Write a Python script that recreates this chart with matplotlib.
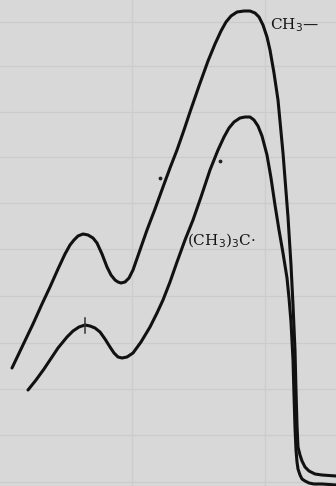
import matplotlib
matplotlib.use("Agg")
import matplotlib.pyplot as plt

# Traced curves (x position across chart, y = height below top, in chart units)
ch3_x = [12, 22, 33, 42, 50, 58, 65, 70, 74, 78, 83, 88, 93, 97, 102, 107, 111, 115, 118,
         121, 125, 129, 133, 140, 147, 155, 163, 170, 177, 184, 190, 199, 208, 215, 221,
         226, 231, 237, 244, 250, 255, 259, 263, 267, 270, 274, 278, 283, 288, 291, 293,
         295, 296, 297, 298, 300, 302, 305, 309, 315, 322, 336]
ch3_y = [368, 347, 324, 304, 287, 269, 254, 245, 240, 236, 234, 235, 238, 243, 254, 267, 275, 280, 282,
         283, 282, 278, 270, 250, 230, 209, 187, 168, 150, 130, 112, 86, 61, 44, 31,
         22, 16, 12, 11, 11, 13, 17, 25, 37, 50, 73, 100, 153, 217, 265, 305,
         350, 390, 425, 447, 455, 461, 467, 471, 474, 475, 476]

tbu_x = [28, 36, 44, 50, 58, 67, 73, 79, 85, 90, 95, 100, 105, 110, 114, 118, 122, 127,
         133, 141, 150, 157, 163, 170, 177, 185, 193, 201, 210, 218, 224, 229, 234, 240,
         245, 250, 254, 258, 262, 267, 271, 275, 279, 283, 287, 289, 291, 293, 294, 295,
         296, 297, 298, 300, 302, 305, 309, 314, 322, 336]
tbu_y = [390, 380, 369, 360, 348, 337, 331, 327, 325, 326, 328, 332, 339, 347, 353, 357, 358, 357,
         353, 342, 327, 313, 300, 282, 262, 240, 220, 197, 170, 150, 137, 128, 122, 118,
         117, 117, 120, 126, 136, 155, 178, 205, 230, 253, 278, 298, 322, 360, 395, 428,
         450, 462, 469, 475, 479, 481, 483, 484, 484, 485]

grid_y = [22, 66, 112, 157, 203, 249, 296, 343, 389, 435, 482]
grid_x = [132, 265]

labels = ["CH$_3$\u2014", "(CH$_3$)$_3$C\u00b7"]
label_pos = [(270, 25), (187, 241)]

dots_x = [160, 220]
dots_y = [178, 161]

BG = "#d8d8d8"
fig = plt.figure(figsize=(3.36, 4.86), dpi=100)
fig.patch.set_facecolor(BG)
ax = fig.add_axes([0, 0, 1, 1])
ax.set_facecolor(BG)
ax.set_xlim(0, 336)
ax.set_ylim(486, 0)
ax.axis("off")

for gy in grid_y:
    ax.axhline(gy, color="#cbcbcb", lw=0.9, zorder=1)
for gx in grid_x:
    ax.axvline(gx, color="#cdcdcd", lw=0.9, zorder=1)

for xs, ys in [(ch3_x, ch3_y), (tbu_x, tbu_y)]:
    ax.plot(xs, ys, color="#111111", lw=2.2, solid_capstyle="round",
            solid_joinstyle="round", zorder=3)

# small pencil tick on lower curve
ax.plot([85, 85], [318, 333], color="#333333", lw=1.1, zorder=4)
ax.scatter(dots_x, dots_y, s=3, color="#222222", zorder=4)

for txt, (tx, ty) in zip(labels, label_pos):
    ax.text(tx, ty, txt, fontsize=11, family="DejaVu Serif", color="#151515",
            ha="left", va="center", zorder=5)

fig.savefig("out.png", dpi=100, facecolor=fig.get_facecolor())
